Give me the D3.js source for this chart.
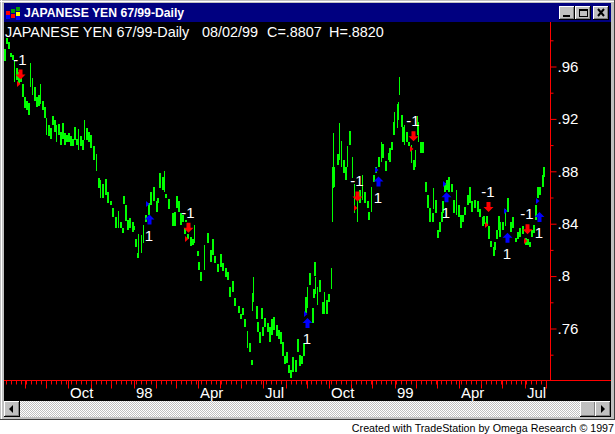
<!DOCTYPE html>
<html>
<head>
<meta charset="utf-8">
<script src="https://cdn.jsdelivr.net/npm/d3@7"></script>
<style>
body { margin: 0; background: #fff; }
svg { display: block; font-family: "Liberation Sans", sans-serif; }
.axis path, .axis line { stroke: #ff0000; }
.axis text { fill: #fff; font-size: 15px; }
</style>
</head>
<body>
<div id="chart"></div>
<script>
var w = 615
var h = 434

// sessions counted from the left edge of the chart, one per pixel
var barDays = [0,2,4,6,8,10,12,14,16,18,20,22,24,26,28,30,32,34,36,38,40,42,44,46,48,50,52,54,56,58,60,62,64,66,68,70,72,74,76,78,80,82,84,86,89,92,94,96,98,101,103,106,108,111,114,116,118,119,121,123,125,128,129,131,133,134,137,139,141,144,146,149,152,153,155,158,160,161,164,168,170,172,174,176,178,180,181,183,186,188,190,193,194,196,200,203,206,208,210,213,216,218,221,223,225,228,230,234,236,238,240,243,245,247,248,249,252,253,255,257,258,260,263,265,267,269,272,274,276,278,280,282,284,286,288,291,293,295,297,299,301,303,305,308,309,310,311,313,315,318,320,322,324,327,328,329,330,333,335,337,339,341,343,345,348,350,353,355,358,360,363,364,367,369,371,374,377,378,381,384,385,387,389,390,393,394,395,397,398,400,402,404,407,409,411,413,414,416,418,421,423,425,428,429,431,433,435,437,438,440,442,444,447,449,452,454,456,458,460,463,465,467,470,473,475,478,479,482,484,486,489,490,492,494,495,498,501,503,506,508,511,513,515,518,521,523,525,527,529,531,533,535,538,539,541];
var barHighs = [.973,.982,.979,.970,.969,.965,.959,.956,.957,.947,.937,.934,.932,.963,.951,.944,.937,.938,.947,.934,.929,.921,.915,.913,.922,.919,.915,.916,.910,.917,.909,.908,.909,.907,.905,.914,.905,.912,.907,.904,.919,.913,.910,.908,.899,.893,.875,.873,.870,.874,.864,.857,.852,.845,.850,.841,.837,.861,.854,.843,.844,.841,.838,.828,.818,.832,.831,.839,.847,.856,.864,.868,.857,.860,.879,.876,.880,.863,.859,.848,.849,.861,.857,.848,.847,.837,.843,.832,.830,.828,.839,.819,.811,.803,.824,.833,.820,.828,.815,.809,.817,.810,.806,.803,.792,.796,.783,.777,.771,.776,.767,.758,.749,.736,.787,.799,.777,.765,.757,.776,.761,.768,.764,.761,.767,.769,.763,.759,.757,.750,.739,.742,.732,.728,.738,.736,.752,.740,.739,.749,.784,.792,.802,.776,.790,.811,.799,.792,.797,.780,.788,.782,.786,.806,.883,.909,.883,.893,.917,.903,.889,.883,.899,.911,.891,.870,.858,.866,.877,.864,.857,.849,.868,.877,.883,.891,.902,.901,.888,.894,.898,.902,.918,.925,.931,.933,.952,.923,.914,.915,.910,.902,.900,.889,.896,.922,.918,.902,.902,.872,.862,.852,.848,.867,.858,.835,.841,.849,.857,.871,.873,.876,.870,.858,.866,.854,.847,.847,.853,.862,.868,.857,.858,.857,.851,.845,.846,.846,.838,.827,.822,.826,.835,.846,.841,.841,.851,.860,.841,.845,.829,.834,.837,.838,.829,.828,.826,.835,.839,.854,.868,.868,.877,.883];
var barLows = [.964,.977,.973,.967,.965,.948,.950,.947,.948,.937,.928,.927,.923,.944,.938,.934,.929,.930,.931,.927,.921,.908,.907,.905,.915,.910,.902,.908,.900,.905,.900,.902,.902,.899,.899,.904,.900,.896,.899,.896,.904,.904,.902,.898,.889,.880,.867,.860,.860,.862,.856,.854,.845,.837,.837,.837,.833,.855,.842,.835,.837,.834,.835,.822,.814,.816,.818,.825,.841,.847,.854,.857,.849,.856,.867,.866,.864,.860,.851,.838,.838,.852,.849,.839,.841,.832,.841,.828,.823,.824,.825,.815,.805,.796,.805,.825,.811,.816,.810,.803,.807,.804,.799,.797,.784,.788,.777,.772,.767,.770,.761,.745,.742,.732,.773,.780,.767,.757,.749,.767,.754,.761,.757,.750,.755,.759,.754,.752,.748,.739,.733,.734,.726,.722,.727,.727,.742,.731,.733,.739,.772,.776,.793,.764,.783,.800,.786,.778,.788,.771,.771,.771,.780,.790,.841,.867,.868,.885,.889,.883,.879,.873,.883,.900,.875,.848,.841,.856,.858,.856,.852,.843,.849,.872,.879,.883,.887,.890,.880,.889,.887,.896,.908,.910,.913,.919,.938,.914,.902,.900,.902,.899,.886,.881,.883,.908,.902,.894,.894,.864,.852,.841,.841,.851,.848,.829,.834,.841,.848,.864,.866,.864,.864,.848,.847,.845,.837,.841,.847,.854,.856,.849,.852,.849,.845,.838,.840,.838,.828,.822,.815,.820,.828,.835,.830,.835,.838,.849,.834,.837,.826,.828,.830,.832,.824,.824,.822,.830,.833,.843,.860,.862,.868,.876];

var yTicks = [.96,.92,.88,.84,.8,.76];
var yMinorTicks = [.98,.94,.9,.86,.82,.78,.74];

var monthDays = [21,42,64,87,107,130,152,172,194,216,237,259,282,303,325,347,368,391,412,433,455,477,498,521,542];
var labelDays = [64,130,194,259,325,391,455,521];
var labelNames = ["Oct","98","Apr","Jul","Oct","99","Apr","Jul"];

var downDays = [16,184,353,409,484,523];
var downPrices = [.950,.833,.857,.903,.849,.832];
var downEntryPrices = [.947,.828,.852,.897,.839,.827];
var upDays = [145,303,374,442,503,535];
var upPrices = [.847,.768,.876,.864,.833,.849];
var upEntryPrices = [.855,.771,.881,.870,.850,.857];

var navy = "#000080", grey = "#c0c0c0", darkGrey = "#808080";

var svg = d3.select("#chart").append("svg")
    .attr("width", w)
    .attr("height", h);

// window frame
svg.append("rect").attr("width", w).attr("height", 420).attr("fill", grey);
svg.append("rect").attr("y", 1).attr("width", 614).attr("height", 1).attr("fill", "#fff");
svg.append("rect").attr("x", 1).attr("width", 1).attr("height", 419).attr("fill", "#fff");
svg.append("rect").attr("x", 614).attr("width", 1).attr("height", 420).attr("fill", "#404040");
svg.append("rect").attr("y", 419).attr("width", w).attr("height", 1).attr("fill", "#404040");
svg.append("rect").attr("x", 4).attr("y", 3).attr("width", 607).attr("height", 19).attr("fill", navy);
svg.append("rect").attr("x", 4).attr("y", 22).attr("width", 607).attr("height", 379).attr("fill", "#000");

// title bar icon
var iconCells = [[6,11,"#ff0000"],[6,15,"#0000ff"],[11,9,"#00a000"],[11,14,"#ff0000"],[16,7,"#00a000"],[16,12,"#ffff00"],[16,16,"#0000ff"]];
svg.selectAll("rect.icon").data(iconCells).enter().append("rect")
    .attr("class", "icon")
    .attr("x", function(d) { return d[0]; })
    .attr("y", function(d) { return d[1]; })
    .attr("width", 4)
    .attr("height", 4)
    .attr("fill", function(d) { return d[2]; });

svg.append("text")
    .attr("x", 24).attr("y", 17)
    .attr("fill", "#fff")
    .style("font-size", "12.2px")
    .style("font-weight", "bold")
    .text("JAPANESE YEN 67/99-Daily");

// title bar buttons
function button(x, y, bw, bh) {
  svg.append("rect").attr("x", x).attr("y", y).attr("width", bw).attr("height", bh).attr("fill", "#000");
  svg.append("rect").attr("x", x).attr("y", y).attr("width", bw - 1).attr("height", bh - 1).attr("fill", "#fff");
  svg.append("rect").attr("x", x + 1).attr("y", y + 1).attr("width", bw - 2).attr("height", bh - 2).attr("fill", darkGrey);
  svg.append("rect").attr("x", x + 1).attr("y", y + 1).attr("width", bw - 3).attr("height", bh - 3).attr("fill", grey);
}
button(559, 6, 16, 14);
button(575, 6, 16, 14);
button(593, 6, 16, 14);
svg.append("rect").attr("x", 563).attr("y", 15).attr("width", 7).attr("height", 2).attr("fill", "#000");
svg.append("rect").attr("x", 579.5).attr("y", 9.5).attr("width", 8).attr("height", 7).attr("fill", "none").attr("stroke", "#000");
svg.append("rect").attr("x", 579).attr("y", 9).attr("width", 9).attr("height", 2).attr("fill", "#000");
svg.append("path").attr("d", "M598,9L604,16M604,9L598,16").attr("stroke", "#000").attr("stroke-width", 2);

// scroll bar
var dither = svg.append("defs").append("pattern")
    .attr("id", "dither").attr("width", 2).attr("height", 2)
    .attr("patternUnits", "userSpaceOnUse");
dither.append("rect").attr("width", 2).attr("height", 2).attr("fill", "#fff");
dither.append("rect").attr("width", 1).attr("height", 1).attr("fill", grey);
dither.append("rect").attr("x", 1).attr("y", 1).attr("width", 1).attr("height", 1).attr("fill", grey);
svg.append("rect").attr("x", 4).attr("y", 401).attr("width", 607).attr("height", 16).attr("fill", "url(#dither)");
button(4, 401, 16, 16);
button(580, 401, 16, 16);
button(595, 401, 16, 16);
svg.append("path").attr("d", "M9,409L13,405V413Z").attr("fill", "#000");
svg.append("path").attr("d", "M605,409L601,405V413Z").attr("fill", "#000");

// scales
var x = d3.scaleLinear().domain([0, 546]).range([4, 550]);
var y = d3.scaleLinear().domain([.96, .76]).range([66.5, 328.5]);

// price bars, the long ranges are single pixel columns in the original
svg.selectAll("rect.bar").data(barDays).enter().append("rect")
    .attr("class", "bar")
    .attr("x", function(d) { return x(d); })
    .attr("y", function(d, i) { return y(barHighs[i]); })
    .attr("width", function(d, i) { return y(barLows[i]) - y(barHighs[i]) >= 16 ? 1 : 2; })
    .attr("height", function(d, i) { return y(barLows[i]) - y(barHighs[i]); })
    .attr("fill", "#00ff00")
    .attr("shape-rendering", "crispEdges");

// axes
svg.append("g").attr("class", "axis")
    .attr("transform", "translate(550.5,0)")
    .call(d3.axisRight(y).tickValues(yMinorTicks).tickSize(3).tickFormat(""))
    .select(".domain").remove();
svg.append("g").attr("class", "axis")
    .attr("transform", "translate(550.5,0)")
    .call(d3.axisRight(y).tickValues(yTicks).tickSize(6).tickPadding(1)
      .tickFormat(function(d) { return String(d).slice(1); }))
    .select(".domain").remove();
svg.append("line").attr("x1", 550.5).attr("x2", 550.5).attr("y1", 22).attr("y2", 380)
    .attr("stroke", "#ff0000");

svg.append("g").attr("class", "axis")
    .attr("transform", "translate(0,380.5)")
    .call(d3.axisBottom(x).tickValues(d3.range(2, 546, 5)).tickSize(4).tickFormat(""))
    .select(".domain").remove();
svg.append("g").attr("class", "axis")
    .attr("transform", "translate(0,380.5)")
    .call(d3.axisBottom(x).tickValues(monthDays).tickSize(8).tickFormat(""))
    .select(".domain").remove();
svg.append("line").attr("x1", 4).attr("x2", 611).attr("y1", 380.5).attr("y2", 380.5)
    .attr("stroke", "#ff0000");

svg.selectAll("text.month").data(labelDays).enter().append("text")
    .attr("class", "month")
    .attr("x", function(d) { return x(d) + 2; })
    .attr("y", 398)
    .attr("fill", "#fff")
    .style("font-size", "15px")
    .text(function(d, i) { return labelNames[i]; });

// heading inside the chart
var headingText = ["JAPANESE YEN 67/99-Daily", "08/02/99", "C=.8807", "H=.8820"];
var headingX = [5, 202, 267, 329];
svg.selectAll("text.heading").data(headingText).enter().append("text")
    .attr("class", "heading")
    .attr("x", function(d, i) { return headingX[i]; })
    .attr("y", 37)
    .attr("fill", "#fff")
    .style("font-size", "14.4px")
    .text(function(d) { return d; });

// signals
var red = "#ff0000", blue = "#0000ff";
function arrowDown(px, py) {
  return "M" + (px - 1.5) + "," + (py - 10) + "h4v5h3l-5,5l-5,-5h3z";
}
function arrowUp(px, py) {
  return "M" + (px - 1.5) + "," + (py + 10) + "h4v-5h3l-5,-5l-5,5h3z";
}
function signalSet(days, prices, entries, color, arrow, labelText, labelDy) {
  svg.append("g").selectAll("path").data(days).enter().append("path")
      .attr("d", function(d, i) { return arrow(x(d), y(prices[i])); })
      .attr("fill", color);
  svg.append("g").selectAll("path").data(days).enter().append("path")
      .attr("d", function(d, i) {
        var py = Math.round(y(entries[i]));
        return "M" + (x(d) - 3) + "," + (py - 3) + "l3.5,3l-3.5,3z";
      })
      .attr("fill", color);
  svg.append("g").selectAll("text").data(days).enter().append("text")
      .attr("x", function(d) { return x(d); })
      .attr("y", function(d, i) { return y(prices[i]) + labelDy; })
      .attr("text-anchor", "middle")
      .attr("fill", "#fff")
      .style("font-size", "15px")
      .text(labelText);
}
signalSet(downDays, downPrices, downEntryPrices, red, arrowDown, "-1", -15);
signalSet(upDays, upPrices, upEntryPrices, blue, arrowUp, "1", 26);

// caption below the window
svg.append("text")
    .attr("x", 614).attr("y", 432)
    .attr("text-anchor", "end")
    .attr("fill", "#000")
    .style("font-size", "10.7px")
    .text("Created with TradeStation by Omega Research \u00a9 1997");
</script>
</body>
</html>
